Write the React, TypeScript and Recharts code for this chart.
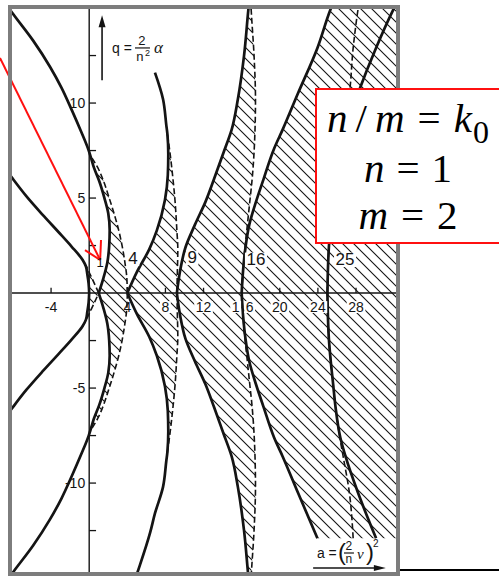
import { ComposedChart, Area, Line, XAxis, YAxis, ReferenceLine, ReferenceDot } from 'recharts'

const SANS = '"Liberation Sans", Arial, sans-serif'
const SERIF = '"Liberation Serif", "Times New Roman", serif'
const INK = '#141414'

// Boundary curves of the stability chart, sampled for q >= 0.
// The lower half (q < 0) is the mirror image. aN = solid, bN = dashed.
const q0 = [0, 0.5, 1.0, 1.4, 1.75, 2.45, 3.2, 4.1, 5.1, 6.1, 6.6]
const a0 = [0, -0.06, -0.2, -0.34, -0.7, -1.85, -3.2, -4.85, -6.6, -8.15, -8.9]
const b1 = [1.0, 0.55, 0.08, -0.3, -0.7]

const q1 = [0, 0.8, 1.6, 2.5, 3.3, 4.2, 5.0, 5.9, 6.6, 7.1, 7.5, 8.5, 9.6, 10.8, 11.9, 13.3, 14.7, 15.4]
const a1 = [1.0, 1.5, 1.9, 2.1, 2.15, 2.0, 1.6, 1.05, 0.5, 0.2, -0.05, -0.85, -1.8, -2.9, -4.1, -5.9, -8.0, -9.0]
const b2 = [4.0, 3.95, 3.75, 3.45, 3.1, 2.6, 2.1, 1.5, 0.9, 0.3]

const q2 = [0, 1.1, 2.3, 3.3, 4.9, 6.2, 7.3, 8.4, 8.8, 10.2, 11.6, 12.6, 14.8, 15.4]
const a2 = [4.0, 5.0, 6.3, 7.1, 7.95, 8.25, 8.3, 8.2, 8.1, 7.75, 6.9, 6.4, 5.0, 4.6]
const b3 = [9.2, 9.25, 9.3, 9.2, 9.0, 8.75, 8.5, 8.2]

const q3 = [0, 1.2, 2.4, 3.6, 4.8, 6.0, 7.4, 8.6, 10.2, 12.5, 14.9, 15.4]
const a3 = [9.2, 9.55, 10.1, 11.1, 12.2, 13.1, 14.1, 14.95, 15.6, 16.25, 16.7, 16.8]
const b4 = [16.0, 16.15, 16.35, 16.6, 16.85, 17.1, 17.3, 17.4, 17.45, 17.3, 17.0, 16.95]

const q4 = [0, 1.2, 2.4, 3.6, 4.8, 6.0, 7.6, 8.6, 10.5, 12.9, 14.9, 15.4]
const a4 = [16.0, 16.15, 16.4, 16.8, 17.5, 18.3, 19.4, 20.3, 21.9, 23.95, 25.3, 25.7]
const b5 = [25.0, 25.05, 25.15, 25.35, 25.6, 25.85, 26.3, 26.65, 27.3, 27.7, 28.2, 28.35]
const a5 = [25.0, 25.05, 25.15, 25.35, 25.6, 25.85, 26.35, 26.9, 28.2, 30.1, 31.9, 32.4]

// axes
const aTicks = [-4, 4, 8, 12, 16, 20, 24, 28]
const qTicks = [-12.5, -10, -7.5, -5, -2.5, 2.5, 5, 7.5, 10, 12.5]
const qLabels = [10, 5, -5, -10]
const tongueLabels = [
  { a: 4.6, q: 1.8, text: '4' },
  { a: 10.8, q: 1.85, text: '9' },
  { a: 17.5, q: 1.75, text: '16' },
  { a: 26.85, q: 1.75, text: '25' },
]

const A_DOMAIN = [-8.1, 32.3]
const Q_DOMAIN = [-14.68, 14.95]

type Curve = { id: string; q: number[]; a: number[]; dashed?: boolean; top?: number; bottom?: number }

const curves: Curve[] = [
  { id: 'a0', q: q0, a: a0 },
  { id: 'b1', q: q0, a: b1, dashed: true },
  { id: 'a1', q: q1, a: a1 },
  { id: 'b2', q: q1, a: b2, dashed: true },
  { id: 'a2', q: q2, a: a2, top: 11.6 },
  { id: 'b3', q: q2, a: b3, dashed: true },
  { id: 'a3', q: q3, a: a3 },
  { id: 'b4', q: q3, a: b4, dashed: true },
  { id: 'a4', q: q4, a: a4, bottom: 12.9 },
  { id: 'b5', q: q4, a: b5, dashed: true, bottom: 12.9 },
  { id: 'a5', q: q4, a: a5, bottom: 12.9 },
]

// hatched bands; everything right of a4 is shaded out to the frame
type Band = { q: number[]; lo: number[]; hi: number[] | number; bottom?: number }
const bands: Band[] = [
  { q: q0, lo: a0, hi: b1 },
  { q: q1, lo: a1, hi: b2 },
  { q: q2, lo: a2, hi: b3 },
  { q: q3, lo: a3, hi: b4 },
  { q: q4, lo: a4, hi: 34, bottom: 12.9 },
]

const limit = (top?: number, bottom?: number) => (sign: number) => (sign > 0 ? top ?? 99 : bottom ?? 99)

function curveHalf(c: Curve, sign: number) {
  const lim = limit(c.top, c.bottom)(sign)
  return c.a
    .map((a, i) => ({ q: sign * c.q[i], a }))
    .filter(p => Math.abs(p.q) <= lim + 1e-9)
    .sort((p, r) => p.q - r.q)
}

function bandHalf(b: Band, sign: number) {
  const lim = limit(undefined, b.bottom)(sign)
  const n = Array.isArray(b.hi) ? Math.min(b.lo.length, b.hi.length) : b.lo.length
  const out = []
  for (let i = 0; i < n; i++) {
    if (b.q[i] > lim + 1e-9) continue
    const hi = Array.isArray(b.hi) ? b.hi[i] : b.hi
    out.push({ q: sign * b.q[i], r: [b.lo[i], hi] })
  }
  return out.sort((p, r) => p.q - r.q)
}

type DotProps = { cx?: number; cy?: number }
type Anchor = 'start' | 'middle' | 'end'

const text = (s: string, size: number, dx: number, dy: number, anchor: Anchor = 'middle', bg = false, family = SANS) =>
  (p: DotProps) => {
    const x = (p.cx ?? 0) + dx
    const y = (p.cy ?? 0) + dy
    const w = s.length * size * 0.56 + 3
    const h = size * 0.85
    const left = anchor === 'middle' ? x - w / 2 : anchor === 'end' ? x - w : x
    return (
      <g>
        {bg && <rect x={left} y={y - h / 2} width={w} height={h} fill="#fff" />}
        <text x={x} y={y} textAnchor={anchor} dominantBaseline="central" fontSize={size} fontFamily={family} fill={INK}>
          {s}
        </text>
      </g>
    )
  }

const arrowUp = (p: DotProps) => {
  const x = p.cx ?? 0, y = p.cy ?? 0
  return <path d={`M${x},${y - 6} L${x - 3.5},${y + 6} L${x + 3.5},${y + 6} Z`} fill={INK} />
}
const arrowRight = (p: DotProps) => {
  const x = p.cx ?? 0, y = p.cy ?? 0
  return <path d={`M${x + 6},${y} L${x - 6},${y - 3} L${x - 6},${y + 3} Z`} fill={INK} />
}

// q = 2α / n²
const qTitle = (p: DotProps) => {
  const x = p.cx ?? 0, y = p.cy ?? 0
  return (
    <g fontFamily={SANS} fill={INK}>
      <text x={x} y={y + 5} fontSize={14}>q =</text>
      <text x={x + 30} y={y - 3} fontSize={13} textAnchor="middle">2</text>
      <line x1={x + 23} x2={x + 38} y1={y} y2={y} stroke={INK} strokeWidth={1.2} />
      <text x={x + 28} y={y + 13} fontSize={13} textAnchor="middle">n</text>
      <text x={x + 33} y={y + 8} fontSize={9}>2</text>
      <text x={x + 42} y={y + 5} fontSize={17} fontFamily={SERIF} fontStyle="italic">α</text>
    </g>
  )
}

// a = (2ν / n)²
const aTitle = (p: DotProps) => {
  const x = p.cx ?? 0, y = p.cy ?? 0
  return (
    <g fontFamily={SANS} fill={INK}>
      <text x={x} y={y + 5} fontSize={14}>a =</text>
      <text x={x + 21} y={y + 7} fontSize={24} fontWeight={300}>(</text>
      <text x={x + 32} y={y - 3} fontSize={12} textAnchor="middle">2</text>
      <line x1={x + 27} x2={x + 37} y1={y} y2={y} stroke={INK} strokeWidth={1.2} />
      <text x={x + 32} y={y + 10} fontSize={12} textAnchor="middle">n</text>
      <text x={x + 40} y={y + 6} fontSize={15} fontFamily={SERIF} fontStyle="italic">ν</text>
      <text x={x + 49} y={y + 7} fontSize={24} fontWeight={300}>)</text>
      <text x={x + 56} y={y - 6} fontSize={10}>2</text>
    </g>
  )
}

const RED = '#ff1010'

export default function App() {
  return (
    <div style={{ position: 'absolute', left: 0, top: 0, width: 499, height: 576, background: '#fff', overflow: 'hidden' }}>
      <ComposedChart layout="vertical" width={499} height={576} margin={{ top: 9, right: 102, bottom: 4, left: 12 }}>
        <defs>
          <pattern id="hatch" patternUnits="userSpaceOnUse" width={11} height={11}>
            <path d="M-1,-1 L12,12 M-1,10 L1,12 M10,-1 L12,1" stroke={INK} strokeWidth={1.1} />
          </pattern>
        </defs>
        <XAxis type="number" domain={A_DOMAIN} allowDataOverflow hide />
        <YAxis type="number" dataKey="q" domain={Q_DOMAIN} allowDataOverflow reversed hide />

        {bands.flatMap((b, i) =>
          [1, -1].map(s => (
            <Area
              key={`band-${i}-${s}`}
              data={bandHalf(b, s)}
              dataKey="r"
              type="monotone"
              fill="url(#hatch)"
              fillOpacity={1}
              stroke="none"
              isAnimationActive={false}
            />
          )),
        )}

        <ReferenceLine x={0} stroke={INK} strokeWidth={1.4} />
        <ReferenceLine y={0} stroke={INK} strokeWidth={1.4} />
        {aTicks.map(t => (
          <ReferenceLine key={`at${t}`} segment={[{ x: t, y: 0 }, { x: t, y: 0.28 }]} stroke={INK} strokeWidth={1.3} />
        ))}
        {qTicks.map(t => (
          <ReferenceLine key={`qt${t}`} segment={[{ x: 0, y: t }, { x: 0.72, y: t }]} stroke={INK} strokeWidth={1.3} />
        ))}

        {curves.flatMap(c =>
          [1, -1].map(s => (
            <Line
              key={`${c.id}-${s}`}
              data={curveHalf(c, s)}
              dataKey="a"
              type="monotone"
              stroke={INK}
              strokeWidth={c.dashed ? 1.6 : 2.7}
              strokeDasharray={c.dashed ? '6 3' : undefined}
              dot={false}
              activeDot={false}
              isAnimationActive={false}
            />
          )),
        )}

        {aTicks.filter(t => t !== 16).map(t => (
          <ReferenceDot key={`al${t}`} x={t} y={0} r={0} shape={text(String(t), 14, 0, 14, 'middle', t > 4)} />
        ))}
        <ReferenceDot x={16} y={0} r={0} shape={text('1', 14, -6, 14, 'middle', true)} />
        <ReferenceDot x={16} y={0} r={0} shape={text('6', 14, 8, 14, 'middle', true)} />
        {qLabels.map(t => (
          <ReferenceDot key={`ql${t}`} x={0} y={t} r={0} shape={text(String(t), 14, -4, 0, 'end')} />
        ))}
        {tongueLabels.map(l => (
          <ReferenceDot key={`tl${l.text}`} x={l.a} y={l.q} r={0} shape={text(l.text, 17, 0, 0, 'middle', true)} />
        ))}
        <ReferenceDot x={1.15} y={1.6} r={0} shape={text('1', 13, 0, 0)} />

        <ReferenceLine segment={[{ x: 1.35, y: 11.2 }, { x: 1.35, y: 14.1 }]} stroke={INK} strokeWidth={1.6} />
        <ReferenceDot x={1.35} y={14.3} r={0} shape={arrowUp} />
        <ReferenceDot x={2.39} y={12.9} r={0} shape={qTitle} />
        <ReferenceLine segment={[{ x: 23.5, y: -14.47 }, { x: 30.2, y: -14.47 }]} stroke={INK} strokeWidth={1.6} />
        <ReferenceDot x={30.5} y={-14.47} r={0} shape={arrowRight} />
        <ReferenceDot x={23.9} y={-13.68} r={0} shape={aTitle} />

        <ReferenceLine ifOverflow="visible" segment={[{ x: -9.36, y: 12.37 }, { x: 1.15, y: 1.74 }]} stroke={RED} strokeWidth={2} />
        <ReferenceLine ifOverflow="visible" segment={[{ x: 1.15, y: 1.74 }, { x: 1.24, y: 2.79 }]} stroke={RED} strokeWidth={2} />
        <ReferenceLine ifOverflow="visible" segment={[{ x: 1.15, y: 1.74 }, { x: -0.44, y: 2.26 }]} stroke={RED} strokeWidth={2} />
      </ComposedChart>

      <div style={{ position: 'absolute', left: 8, top: 5, width: 392, height: 571, border: '4px solid #7d7d7d', boxSizing: 'border-box' }} />
      <div style={{ position: 'absolute', left: 400, top: 569, width: 99, height: 2, background: '#000' }} />

      <div
        style={{
          position: 'absolute', left: 315, top: 88, width: 184, height: 156, boxSizing: 'border-box',
          border: `2.5px solid ${RED}`, borderRight: 'none', background: '#fff',
          fontFamily: SERIF, fontSize: 41, lineHeight: '47px', color: '#000', textAlign: 'center', paddingTop: 5,
        }}
      >
        <div style={{ whiteSpace: 'nowrap' }}>
          <i>n</i>
          <span style={{ margin: '0 8px' }}>/</span>
          <i>m</i>
          <span style={{ margin: '0 13px' }}>=</span>
          <i>k</i>
          <span style={{ fontSize: 32, position: 'relative', top: 11, marginLeft: 1 }}>0</span>
        </div>
        <div>
          <i>n</i>
          <span style={{ margin: '0 12px' }}>=</span>1
        </div>
        <div>
          <i>m</i>
          <span style={{ margin: '0 13px' }}>=</span>2
        </div>
      </div>
    </div>
  )
}
